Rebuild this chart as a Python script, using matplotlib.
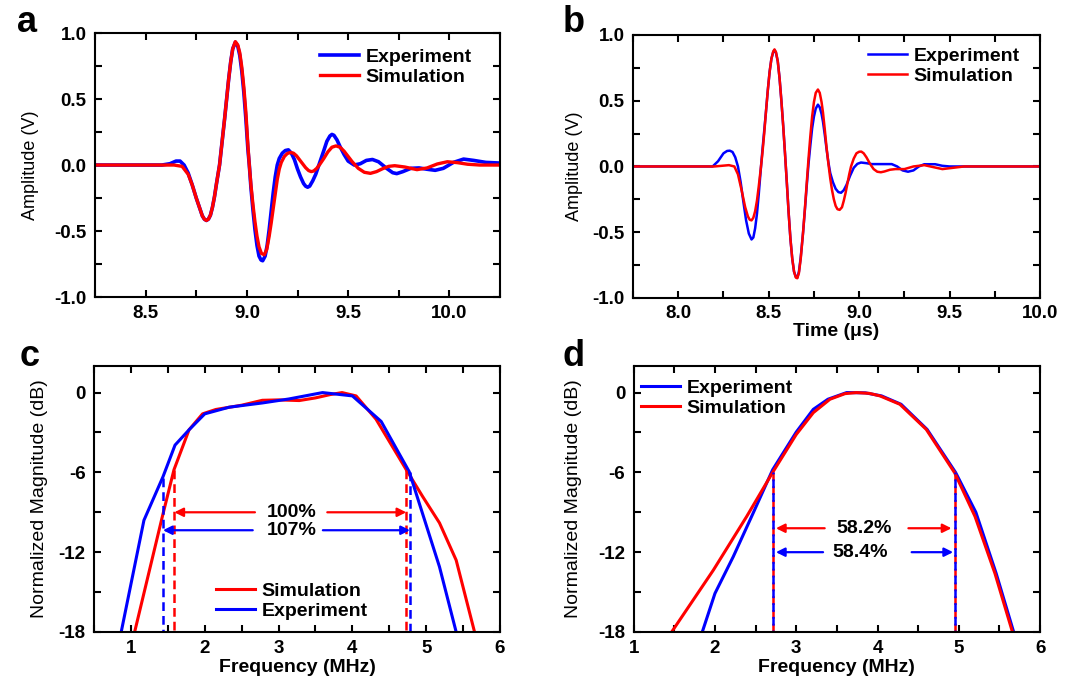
import numpy as np
import matplotlib
matplotlib.use("Agg")
import matplotlib.pyplot as plt
from matplotlib.ticker import MultipleLocator

plt.rcParams['font.family'] = ['Liberation Sans', 'DejaVu Sans']
plt.rcParams['axes.unicode_minus'] = False

BLUE = '#0000ff'
RED = '#ff0000'

# ---- panel a : waveforms (time in us, amplitude in V)
a_exp_t = [8.25, 8.58, 8.62, 8.65, 8.67, 8.69, 8.71, 8.73, 8.75, 8.77, 8.78, 8.79, 8.80, 8.81, 8.82,
           8.83, 8.84, 8.85, 8.865, 8.875, 8.89, 8.90, 8.91, 8.92, 8.93, 8.943, 8.955, 8.965, 8.975, 8.985,
           8.995, 9.005, 9.012, 9.02, 9.03, 9.04, 9.05, 9.06, 9.07, 9.078, 9.09, 9.10, 9.11, 9.12, 9.13,
           9.14, 9.15, 9.16, 9.175, 9.19, 9.205, 9.22, 9.235, 9.25, 9.265, 9.28, 9.29, 9.30, 9.31, 9.325,
           9.34, 9.36, 9.38, 9.395, 9.41, 9.42, 9.43, 9.445, 9.46, 9.48, 9.50, 9.53, 9.56, 9.59, 9.62,
           9.65, 9.69, 9.72, 9.74, 9.77, 9.81, 9.85, 9.89, 9.93, 9.97, 10.02, 10.07, 10.12, 10.18, 10.25]
a_exp_v = [0.0, 0.0, 0.01, 0.03, 0.03, 0.0, -0.06, -0.15, -0.25, -0.34, -0.385, -0.41, -0.42, -0.41, -0.38,
           -0.32, -0.24, -0.14, 0.0, 0.14, 0.35, 0.50, 0.65, 0.78, 0.88, 0.93, 0.90, 0.83, 0.71, 0.55,
           0.35, 0.12, 0.0, -0.17, -0.34, -0.49, -0.61, -0.69, -0.72, -0.725, -0.69, -0.61, -0.49, -0.35, -0.21,
           -0.09, 0.0, 0.05, 0.09, 0.11, 0.115, 0.09, 0.04, -0.03, -0.09, -0.14, -0.16, -0.168, -0.16, -0.12,
           -0.07, 0.02, 0.11, 0.18, 0.22, 0.232, 0.225, 0.19, 0.14, 0.08, 0.03, 0.0, 0.01, 0.035, 0.042,
           0.025, -0.025, -0.058, -0.065, -0.05, -0.025, -0.022, -0.032, -0.04, -0.025, 0.02, 0.045, 0.035, 0.02, 0.015]
a_sim_t = [8.25, 8.64, 8.68, 8.71, 8.73, 8.75, 8.77, 8.78, 8.79, 8.80, 8.81, 8.82, 8.83, 8.84, 8.85,
           8.865, 8.875, 8.89, 8.90, 8.91, 8.92, 8.93, 8.943, 8.955, 8.965, 8.975, 8.985, 8.995, 9.005, 9.012,
           9.02, 9.03, 9.04, 9.05, 9.06, 9.072, 9.086, 9.098, 9.11, 9.12, 9.13, 9.14, 9.15, 9.16, 9.17,
           9.185, 9.20, 9.215, 9.23, 9.245, 9.26, 9.275, 9.29, 9.305, 9.318, 9.33, 9.345, 9.36, 9.38, 9.40,
           9.42, 9.44, 9.46, 9.48, 9.50, 9.52, 9.55, 9.58, 9.61, 9.64, 9.67, 9.70, 9.73, 9.78, 9.84,
           9.89, 9.94, 9.99, 10.04, 10.09, 10.15, 10.25]
a_sim_v = [0.0, 0.0, -0.01, -0.07, -0.15, -0.25, -0.34, -0.385, -0.41, -0.42, -0.41, -0.38, -0.32, -0.24, -0.14,
           0.0, 0.14, 0.35, 0.50, 0.65, 0.78, 0.88, 0.935, 0.91, 0.85, 0.74, 0.59, 0.40, 0.15, 0.0,
           -0.15, -0.30, -0.43, -0.54, -0.62, -0.67, -0.68, -0.64, -0.54, -0.44, -0.33, -0.22, -0.11, -0.03, 0.02,
           0.065, 0.088, 0.095, 0.09, 0.07, 0.04, 0.01, -0.02, -0.042, -0.05, -0.045, -0.025, 0.005, 0.05, 0.10,
           0.135, 0.145, 0.135, 0.105, 0.065, 0.025, -0.025, -0.055, -0.063, -0.05, -0.028, -0.01, -0.005, -0.015, -0.035,
           -0.022, 0.008, 0.025, 0.018, 0.006, 0.0, 0.0]

# ---- panel b : waveforms
b_exp_t = [7.75, 8.19, 8.22, 8.25, 8.27, 8.285, 8.30, 8.315, 8.33, 8.345, 8.36, 8.375, 8.39, 8.405, 8.415,
           8.425, 8.435, 8.445, 8.455, 8.465, 8.475, 8.485, 8.495, 8.505, 8.515, 8.525, 8.532, 8.54, 8.55, 8.56,
           8.57, 8.58, 8.59, 8.60, 8.61, 8.62, 8.63, 8.64, 8.65, 8.658, 8.667, 8.677, 8.69, 8.70, 8.71,
           8.72, 8.73, 8.74, 8.75, 8.76, 8.772, 8.782, 8.792, 8.80, 8.81, 8.82, 8.83, 8.84, 8.855, 8.87,
           8.885, 8.90, 8.915, 8.93, 8.95, 8.97, 8.99, 9.01, 9.04, 9.07, 9.18, 9.21, 9.24, 9.27, 9.30,
           9.33, 9.36, 9.42, 9.46, 9.50, 10.0]
b_exp_v = [0.0, 0.0, 0.04, 0.10, 0.118, 0.12, 0.11, 0.07, 0.0, -0.12, -0.27, -0.41, -0.51, -0.555, -0.54,
           -0.47, -0.36, -0.21, -0.04, 0.12, 0.27, 0.42, 0.58, 0.72, 0.82, 0.87, 0.885, 0.865, 0.80, 0.67,
           0.50, 0.31, 0.10, -0.12, -0.35, -0.55, -0.70, -0.80, -0.84, -0.845, -0.80, -0.69, -0.50, -0.33, -0.15,
           0.02, 0.16, 0.29, 0.38, 0.44, 0.47, 0.45, 0.40, 0.34, 0.24, 0.13, 0.03, -0.05, -0.12, -0.17,
           -0.195, -0.20, -0.18, -0.14, -0.07, -0.01, 0.02, 0.03, 0.025, 0.018, 0.018, 0.0, -0.03, -0.04, -0.03,
           0.0, 0.017, 0.017, 0.005, 0.0, 0.0]
b_sim_t = [7.75, 8.20, 8.24, 8.28, 8.31, 8.33, 8.35, 8.37, 8.385, 8.395, 8.405, 8.415, 8.425, 8.435, 8.445,
           8.455, 8.465, 8.475, 8.485, 8.495, 8.505, 8.515, 8.525, 8.532, 8.54, 8.55, 8.56, 8.57, 8.58, 8.59,
           8.60, 8.61, 8.62, 8.63, 8.64, 8.65, 8.658, 8.667, 8.677, 8.69, 8.70, 8.71, 8.72, 8.73, 8.74,
           8.75, 8.76, 8.772, 8.782, 8.792, 8.80, 8.81, 8.82, 8.83, 8.84, 8.85, 8.86, 8.87, 8.88, 8.892,
           8.905, 8.915, 8.925, 8.935, 8.945, 8.955, 8.97, 8.985, 9.0, 9.012, 9.025, 9.04, 9.06, 9.08, 9.10,
           9.12, 9.14, 9.17, 9.20, 9.25, 9.30, 9.36, 9.41, 9.46, 9.52, 9.58, 10.0]
b_sim_v = [0.0, 0.0, 0.005, 0.01, 0.0, -0.06, -0.18, -0.31, -0.38, -0.405, -0.41, -0.39, -0.34, -0.26, -0.15,
           -0.03, 0.10, 0.25, 0.42, 0.58, 0.72, 0.82, 0.875, 0.89, 0.87, 0.80, 0.67, 0.50, 0.31, 0.10,
           -0.12, -0.35, -0.55, -0.70, -0.80, -0.845, -0.85, -0.81, -0.70, -0.50, -0.32, -0.13, 0.06, 0.23, 0.38,
           0.49, 0.56, 0.585, 0.56, 0.49, 0.41, 0.28, 0.14, 0.02, -0.09, -0.18, -0.25, -0.30, -0.325, -0.33,
           -0.31, -0.26, -0.20, -0.13, -0.06, 0.0, 0.06, 0.10, 0.112, 0.113, 0.10, 0.07, 0.02, -0.02, -0.04,
           -0.044, -0.038, -0.025, -0.02, -0.02, 0.0, 0.01, -0.005, -0.02, -0.01, 0.0, 0.0]

# ---- panel c : spectra (MHz, dB)
c_exp_f = [0.868, 1.176, 1.434, 1.597, 1.787, 2.0, 2.33, 2.78, 3.14, 3.596, 4.0, 4.39, 4.77, 5.18, 5.406]
c_exp_db = [-18, -9.6, -6.33, -3.95, -2.8, -1.6, -1.1, -0.78, -0.48, 0.0, -0.25, -2.17, -5.95, -13.1, -18]
c_sim_f = [1.05, 1.425, 1.583, 1.787, 1.97, 2.15, 2.5, 2.78, 3.0, 3.28, 3.5, 3.7, 3.86, 4.05, 4.32,
           4.73, 4.95, 5.18, 5.406, 5.655]
c_sim_db = [-18, -9.33, -5.8, -2.8, -1.6, -1.27, -0.95, -0.58, -0.55, -0.6, -0.4, -0.15, 0.0, -0.25, -2.0,
            -5.8, -7.8, -9.8, -12.6, -18]
c_exp_edges = [1.434, 4.78]
c_sim_edges = [1.588, 4.73]
c_exp_bw = '107%'
c_sim_bw = '100%'

# ---- panel d : spectra
d_exp_f = [1.844, 2.0, 2.225, 2.47, 2.71, 3.0, 3.21, 3.39, 3.62, 3.85, 4.05, 4.29, 4.61, 4.96, 5.21, 5.46, 5.675]
d_exp_db = [-18, -15.1, -12.34, -9.06, -5.8, -2.97, -1.26, -0.5, 0.0, -0.02, -0.25, -0.88, -2.77, -6.0, -9.0, -13.6, -18]
d_sim_f = [1.467, 1.98, 2.39, 2.71, 3.0, 3.21, 3.415, 3.6, 3.74, 3.9, 4.03, 4.275, 4.6, 4.95, 5.2, 5.445, 5.66]
d_sim_db = [-18, -13.35, -9.32, -6.0, -3.15, -1.51, -0.5, -0.08, 0.0, -0.06, -0.25, -0.88, -2.77, -6.04, -9.32, -13.6, -18]
d_edges = [2.71, 4.95]
d_exp_bw = '58.4%'
d_sim_bw = '58.2%'

fig = plt.figure(figsize=(10.65, 6.8), dpi=100)

ax_a = fig.add_axes([0.0892, 0.5632, 0.3803, 0.3882])
ax_b = fig.add_axes([0.5944, 0.5618, 0.3822, 0.3868])
ax_c = fig.add_axes([0.0883, 0.0706, 0.3812, 0.3912])
ax_d = fig.add_axes([0.5950, 0.0706, 0.3816, 0.3912])

LEG = dict(loc='upper left', frameon=False, borderpad=0, borderaxespad=0, handlelength=2.0,
           handletextpad=0.35, labelspacing=0.12, prop=dict(size=14, weight='bold'))


def style(ax):
    for s in ax.spines.values():
        s.set_linewidth(1.5)
    ax.tick_params(which='both', direction='in', top=True, right=True, width=1.5)
    ax.tick_params(which='major', length=5, labelsize=13.5, pad=6)
    ax.tick_params(which='minor', length=5)
    for lab in ax.get_xticklabels() + ax.get_yticklabels():
        lab.set_fontweight('bold')


# panel a
ax_a.plot(a_exp_t, a_exp_v, color=BLUE, lw=2.6, label='Experiment')
ax_a.plot(a_sim_t, a_sim_v, color=RED, lw=2.4, label='Simulation')
ax_a.set_xlim(8.25, 10.25)
ax_a.set_ylim(-1.0, 1.0)
ax_a.xaxis.set_major_locator(MultipleLocator(0.5))
ax_a.xaxis.set_minor_locator(MultipleLocator(0.25))
ax_a.yaxis.set_major_locator(MultipleLocator(0.5))
ax_a.yaxis.set_minor_locator(MultipleLocator(0.25))
ax_a.set_ylabel('Amplitude (V)', fontsize=13)
ax_a.yaxis.set_label_coords(-0.138, 0.5)
style(ax_a)
ax_a.legend(bbox_to_anchor=(0.555, 0.943), **LEG)

# panel b
ax_b.plot(b_exp_t, b_exp_v, color=BLUE, lw=1.8, label='Experiment')
ax_b.plot(b_sim_t, b_sim_v, color=RED, lw=1.8, label='Simulation')
ax_b.set_xlim(7.75, 10.0)
ax_b.set_ylim(-1.0, 1.0)
ax_b.xaxis.set_major_locator(MultipleLocator(0.5))
ax_b.xaxis.set_minor_locator(MultipleLocator(0.25))
ax_b.yaxis.set_major_locator(MultipleLocator(0.5))
ax_b.yaxis.set_minor_locator(MultipleLocator(0.25))
ax_b.set_ylabel('Amplitude (V)', fontsize=13)
ax_b.yaxis.set_label_coords(-0.123, 0.5)
style(ax_b)
ax_b.tick_params(axis='x', which='major', pad=5)
ax_b.set_xlabel('Time (μs)', fontsize=14, fontweight='bold', labelpad=1)
ax_b.legend(bbox_to_anchor=(0.577, 0.954), **LEG)


def bw_arrows(ax, left, right, y, text, color, tx, gap_l, gap_r):
    ax.annotate('', xy=(left, y), xytext=(tx - gap_l, y),
                arrowprops=dict(arrowstyle='-|>', color=color, lw=1.6, mutation_scale=13,
                                shrinkA=0, shrinkB=0))
    ax.annotate('', xy=(right, y), xytext=(tx + gap_r, y),
                arrowprops=dict(arrowstyle='-|>', color=color, lw=1.6, mutation_scale=13,
                                shrinkA=0, shrinkB=0))
    ax.text(tx, y, text, ha='center', va='center', fontsize=14, fontweight='bold')


# panel c
ax_c.plot(c_sim_f, c_sim_db, color=RED, lw=2.2, label='Simulation')
ax_c.plot(c_exp_f, c_exp_db, color=BLUE, lw=2.2, label='Experiment')
ax_c.plot([c_exp_edges[0]] * 2, [-6.4, -18], color=BLUE, lw=1.8, ls=(0, (3.5, 2)))
ax_c.plot([c_sim_edges[0]] * 2, [-5.8, -18], color=RED, lw=1.8, ls=(0, (3.5, 2)))
ax_c.plot([c_sim_edges[1]] * 2, [-5.8, -18], color=RED, lw=1.8, ls=(0, (3.5, 2)))
ax_c.plot([c_exp_edges[1]] * 2, [-6.0, -18], color=BLUE, lw=1.8, ls=(0, (3.5, 2)))
bw_arrows(ax_c, c_sim_edges[0], c_sim_edges[1], -9.0, c_sim_bw, RED, 3.18, 0.50, 0.48)
bw_arrows(ax_c, c_exp_edges[0], c_exp_edges[1], -10.35, c_exp_bw, BLUE, 3.18, 0.53, 0.42)
ax_c.set_xlim(0.5, 6)
ax_c.set_ylim(-18, 2)
ax_c.xaxis.set_major_locator(MultipleLocator(1))
ax_c.xaxis.set_minor_locator(MultipleLocator(0.5))
ax_c.set_yticks([0, -6, -12, -18])
ax_c.yaxis.set_minor_locator(MultipleLocator(3))
ax_c.set_ylabel('Normalized Magnitude (dB)', fontsize=14)
ax_c.yaxis.set_label_coords(-0.113, 0.5)
ax_c.set_xlabel('Frequency (MHz)', fontsize=14, fontweight='bold', labelpad=1)
style(ax_c)
ax_c.legend(bbox_to_anchor=(0.30, 0.188), **LEG)

# panel d
ax_d.plot(d_exp_f, d_exp_db, color=BLUE, lw=2.2, label='Experiment')
ax_d.plot(d_sim_f, d_sim_db, color=RED, lw=2.2, label='Simulation')
for e in d_edges:
    ax_d.plot([e, e], [-6.0, -18], color=RED, lw=1.8, ls=(0, (3.5, 2)))
    ax_d.plot([e, e], [-6.0, -18], color=BLUE, lw=1.8, ls=(2.75, (3.5, 2)))
bw_arrows(ax_d, d_edges[0] + 0.04, d_edges[1] - 0.04, -10.2, d_sim_bw, RED, 3.84, 0.49, 0.54)
bw_arrows(ax_d, d_edges[0] + 0.04, d_edges[1] - 0.02, -12.0, d_exp_bw, BLUE, 3.78, 0.45, 0.64)
ax_d.set_xlim(1, 6)
ax_d.set_ylim(-18, 2)
ax_d.xaxis.set_major_locator(MultipleLocator(1))
ax_d.xaxis.set_minor_locator(MultipleLocator(0.5))
ax_d.set_yticks([0, -6, -12, -18])
ax_d.yaxis.set_minor_locator(MultipleLocator(3))
ax_d.set_ylabel('Normalized Magnitude (dB)', fontsize=14)
ax_d.yaxis.set_label_coords(-0.128, 0.5)
ax_d.set_xlabel('Frequency (MHz)', fontsize=14, fontweight='bold', labelpad=1)
style(ax_d)
ax_d.legend(bbox_to_anchor=(0.018, 0.951), **LEG)

# panel letters
for letter, x, y in [('a', 0.016, 0.953), ('b', 0.528, 0.953), ('c', 0.018, 0.462), ('d', 0.528, 0.462)]:
    fig.text(x, y, letter, fontsize=26, fontweight='bold', ha='left', va='baseline')

fig.savefig('out.png', dpi=100)
